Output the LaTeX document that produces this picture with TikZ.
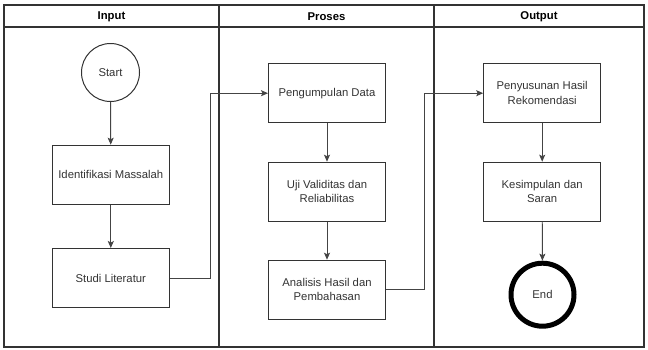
\documentclass[tikz,border=0pt]{standalone}
\usepackage{fontspec}
\setmainfont{Liberation Sans}
\usetikzlibrary{arrows.meta,shadows}
\definecolor{frm}{HTML}{333333}
\definecolor{txt}{HTML}{333333}
\definecolor{cn}{HTML}{444444}
\begin{document}
\begin{tikzpicture}[x=1pt,y=-1pt,
  lane/.style={draw=frm,line width=1.3pt},
  box/.style={draw=frm,line width=1pt,fill=white,minimum width=117pt,minimum height=59pt,inner sep=2pt,align=center,text=txt,font=\fontsize{11.3}{14.5}\selectfont},
  term/.style={draw=frm,circle,fill=white,text=txt,font=\fontsize{11.3}{14.5}\selectfont,inner sep=0pt},
  hdr/.style={font=\bfseries\fontsize{11.3}{14}\selectfont,text=black},
  conn/.style={draw=cn,line width=0.9pt,-{Stealth[length=7pt,width=6pt,inset=1.5pt]}}
]
\useasboundingbox (0,0) rectangle (648,349);
\fill[white] (0,0) rectangle (648,349);
% lanes
\draw[lane] (4,5) rectangle (644,347);
\draw[lane] (4,27) -- (644,27);
\draw[lane] (219,5) -- (219,347);
\draw[lane] (434,5) -- (434,347);
\node[hdr] (h1) at (111.5,16.5) {Input};
\node[hdr] (h2) at (326.5,16.5) {Proses};
\node[hdr] (h3) at (539,16.5) {Output};
% nodes
\node[term,minimum size=58pt,line width=1pt] (start) at (110.5,72.5) {Start};
\node[box] (ident) at (110.8,174.7) {Identifikasi Massalah};
\node[box] (studi) at (110.8,278) {Studi Literatur};
\node[box] (peng) at (327,93.2) {Pengumpulan Data};
\node[box] (uji) at (327,191.7) {Uji Validitas dan\\Reliabilitas};
\node[box] (anal) at (327,289.7) {Analisis Hasil dan\\Pembahasan};
\node[box] (peny) at (542.2,93.2) {Penyusunan Hasil\\Rekomendasi};
\node[box] (kes) at (542.2,191.7) {Kesimpulan dan\\Saran};
\node[term,minimum size=63pt,line width=5pt,draw=black,drop shadow={opacity=0.2,shadow xshift=1pt,shadow yshift=-2pt}] (end) at (542.5,294.7) {End};
\coordinate (c1) at (210,0);
\coordinate (c2) at (424.5,0);
% connectors
\draw[conn] (start) -- (ident);
\draw[conn] (ident) -- (studi);
\draw[conn] (studi.east) -- (studi.east -| c1) |- (peng.west);
\draw[conn] (peng) -- (uji);
\draw[conn] (uji) -- (anal);
\draw[conn] (anal.east) -- (anal.east -| c2) |- (peny.west);
\draw[conn] (peny) -- (kes);
\draw[conn] (kes) -- (end);
\end{tikzpicture}
\end{document}
